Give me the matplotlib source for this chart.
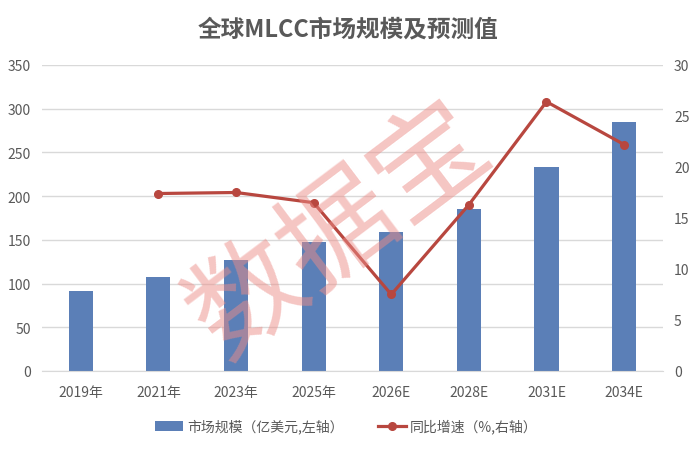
import matplotlib
matplotlib.use("Agg")
import matplotlib.pyplot as plt
import numpy as np

plt.rcParams['font.family'] = ['Noto Sans CJK SC', 'DejaVu Sans']

categories = ["2019年", "2021年", "2023年", "2025年", "2026E", "2028E", "2031E", "2034E"]
market_size = [92, 108, 127, 148, 159, 185, 233, 285]
growth = [None, 17.4, 17.5, 16.5, 7.5, 16.3, 26.4, 22.2]

bar_color = "#5B7FB7"
line_color = "#B8473F"
text_color = "#595959"
grid_color = "#D9D9D9"

fig = plt.figure(figsize=(7, 4.52), dpi=100)
ax = fig.add_axes([0.06, 0.177, 0.887, 0.677])
ax2 = ax.twinx()

x = np.arange(len(categories))
ax.bar(x, market_size, width=0.31, color=bar_color, zorder=2, label="市场规模（亿美元,左轴）")
ax.set_ylim(0, 350)
ax.set_yticks(np.arange(0, 351, 50))
ax.set_xlim(-0.5, len(categories) - 0.5)
ax.set_xticks(x)
ax.set_xticklabels(categories)
ax.grid(axis='y', color=grid_color, linewidth=1, zorder=0)
ax.set_axisbelow(True)

gx = [i for i, g in enumerate(growth) if g is not None]
gy = [g for g in growth if g is not None]
ax2.plot(gx, gy, color=line_color, linewidth=2.3, marker='o', markersize=5.5, zorder=3,
         label="同比增速（%,右轴）")
ax2.set_ylim(0, 30)
ax2.set_yticks(np.arange(0, 31, 5))

for a in (ax, ax2):
    for s in a.spines.values():
        s.set_visible(False)
    a.tick_params(length=0, colors=text_color, labelsize=10)
ax.spines['bottom'].set_visible(True)
ax.spines['bottom'].set_color(grid_color)
ax.tick_params(axis='x', pad=10)
ax.tick_params(axis='y', pad=8)
ax2.tick_params(axis='y', pad=8)

fig.text(0.497, 0.935, "全球MLCC市场规模及预测值", ha='center', va='center',
         fontsize=17, fontweight='bold', color=text_color)

h1, l1 = ax.get_legend_handles_labels()
h2, l2 = ax2.get_legend_handles_labels()
fig.legend(h1 + h2, l1 + l2, loc='center', bbox_to_anchor=(0.495, 0.055), ncol=2,
           frameon=False, fontsize=10, labelcolor=text_color, handlelength=2.0,
           columnspacing=2.5, handletextpad=0.3)

fig.text(0.485, 0.49, "数据宝", ha='center', va='center', fontsize=82, rotation=37,
         color="#EC8D88", alpha=0.5, zorder=10)

fig.savefig("out.png", dpi=100, facecolor='white')
